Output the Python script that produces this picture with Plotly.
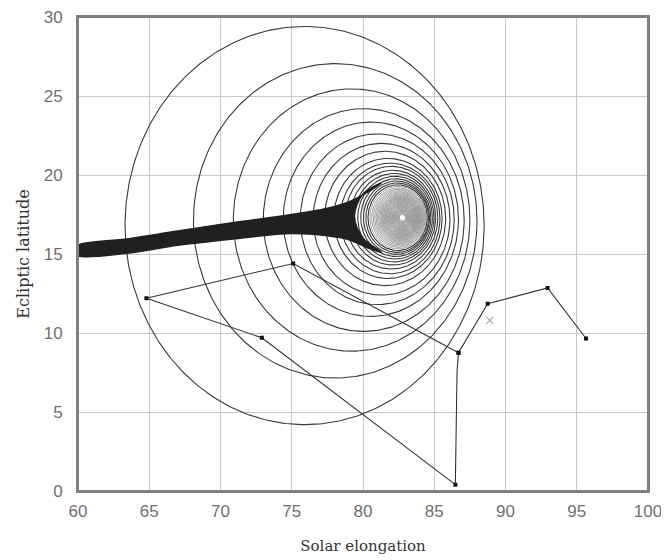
import numpy as np
import plotly.graph_objects as go

# Nested circles (data units): centre x, centre y, radius
circle_cx = [75.9, 78.05, 79.2, 80.05, 80.55, 81.0, 81.3, 81.55, 81.75, 81.9,
             82.0, 82.1, 82.18, 82.25, 82.3, 82.35, 82.4, 82.43, 82.46, 82.49,
             82.52, 82.54, 82.56, 82.58, 82.6, 82.62, 82.63, 82.64, 82.65, 82.66,
             82.67, 82.68, 82.69, 82.7, 82.7, 82.71, 82.71, 82.72, 82.72, 82.73,
             82.73, 82.74, 82.74, 82.75, 82.75, 82.75, 82.76, 82.76, 82.76, 82.77]
circle_cy = [16.8, 17.1, 17.15, 17.15, 17.2, 17.2, 17.2, 17.25, 17.25, 17.25,
             17.3, 17.3, 17.3, 17.3, 17.3, 17.3, 17.3, 17.3, 17.3, 17.3,
             17.3, 17.3, 17.3, 17.3, 17.3, 17.3, 17.3, 17.3, 17.3, 17.3,
             17.3, 17.3, 17.3, 17.3, 17.3, 17.3, 17.3, 17.3, 17.3, 17.3,
             17.3, 17.3, 17.3, 17.3, 17.3, 17.3, 17.3, 17.3, 17.3, 17.3]
circle_r = [12.6, 9.95, 8.3, 7.05, 6.15, 5.4, 4.8, 4.25, 3.8, 3.5,
            3.25, 3.0, 2.8, 2.62, 2.46, 2.32, 2.2, 2.08, 1.98, 1.88,
            1.8, 1.72, 1.64, 1.57, 1.5, 1.44, 1.38, 1.32, 1.27, 1.22,
            1.17, 1.12, 1.07, 1.02, 0.97, 0.92, 0.87, 0.82, 0.77, 0.72,
            0.67, 0.62, 0.57, 0.52, 0.47, 0.42, 0.37, 0.32, 0.27, 0.22]

# Dense tail (outline of the dark band)
tail_x = [60.0, 63.4, 67.0, 71.4, 75.0, 77.5, 79.0, 80.3, 81.3,
          80.0, 79.4, 80.0, 81.3,
          80.3, 79.0, 77.5, 75.0, 71.4, 67.0, 63.4, 60.0, 59.8, 60.0]
tail_y = [15.55, 15.95, 16.45, 17.05, 17.5, 17.9, 18.3, 18.9, 19.5,
          18.8, 17.4, 16.0, 15.1,
          15.4, 15.9, 16.15, 16.3, 16.0, 15.55, 15.05, 14.9, 15.2, 15.55]

# Observed positions (polyline with dots)
obs_x = [95.65, 92.95, 88.75, 86.7, 86.6, 86.48, 72.9, 64.8, 75.1, 86.7]
obs_y = [9.65, 12.85, 11.85, 8.75, 7.6, 0.4, 9.7, 12.2, 14.4, 8.75]
obs_marker = [True, True, True, True, False, True, True, True, True, True]

# Single cross marker
cross_x = [88.9]
cross_y = [10.8]

x_ticks = [60, 65, 70, 75, 80, 85, 90, 95, 100]
y_ticks = [0, 5, 10, 15, 20, 25, 30]

fig = go.Figure()

# circles: outer ones dark, dense inner ones lighter/thinner
t = np.linspace(0, 2 * np.pi, 361)
oxs, oys, ixs, iys = [], [], [], []
for cx, cy, r in zip(circle_cx, circle_cy, circle_r):
    px = list(cx + r * np.cos(t)) + [None]
    py = list(cy + r * np.sin(t)) + [None]
    if r >= 2.0:
        oxs += px; oys += py
    else:
        ixs += px; iys += py
fig.add_trace(go.Scatter(x=oxs, y=oys, mode="lines",
                         line=dict(color="#3a3a3a", width=1.1),
                         hoverinfo="skip", showlegend=False))
fig.add_trace(go.Scatter(x=ixs, y=iys, mode="lines",
                         line=dict(color="#8a8a8a", width=0.8),
                         hoverinfo="skip", showlegend=False))

# tail
fig.add_trace(go.Scatter(x=tail_x, y=tail_y, mode="lines", fill="toself",
                         fillcolor="#202020",
                         line=dict(color="#202020", width=1.5, shape="spline"),
                         hoverinfo="skip", showlegend=False))

# observation polyline
fig.add_trace(go.Scatter(x=obs_x, y=obs_y, mode="lines",
                         line=dict(color="#333333", width=1.1),
                         showlegend=False))
mx = [x for x, m in zip(obs_x, obs_marker) if m]
my = [y for y, m in zip(obs_y, obs_marker) if m]
fig.add_trace(go.Scatter(x=mx, y=my, mode="markers",
                         marker=dict(symbol="square", size=4, color="#111111"),
                         showlegend=False))
fig.add_trace(go.Scatter(x=cross_x, y=cross_y, mode="markers",
                         marker=dict(symbol="x-thin", size=7,
                                     line=dict(color="#aaaaaa", width=1.2)),
                         showlegend=False))

axis_common = dict(showgrid=True, gridcolor="#c8c8c8", gridwidth=1,
                   showline=True, linecolor="#808080", linewidth=2, mirror=True,
                   ticks="", zeroline=False, automargin=False,
                   ticklabeloverflow="allow",
                   tickfont=dict(family="Liberation Sans, Arial", size=17, color="#707070"))

fig.update_xaxes(range=[60, 100], tickvals=x_ticks, ticktext=[str(v) for v in x_ticks],
                 ticklabelstandoff=4,
                 title=dict(text="Solar elongation", standoff=20,
                            font=dict(family="DejaVu Serif", size=15, color="#333333")),
                 **axis_common)
fig.update_yaxes(range=[0, 30], tickvals=y_ticks, ticktext=[str(v) for v in y_ticks],
                 ticklabelstandoff=10,
                 title=dict(text="Ecliptic latitude", standoff=10,
                            font=dict(family="DejaVu Serif", size=16, color="#333333")),
                 **axis_common)

# plot frame
fig.add_shape(type="rect", xref="paper", yref="paper", x0=0, x1=1, y0=0, y1=1,
              line=dict(color="#808080", width=2), layer="above")

fig.update_layout(width=661, height=552,
                  margin=dict(l=70, r=21, t=9, b=69),
                  plot_bgcolor="white", paper_bgcolor="white",
                  showlegend=False)

fig.write_html("out.html")
